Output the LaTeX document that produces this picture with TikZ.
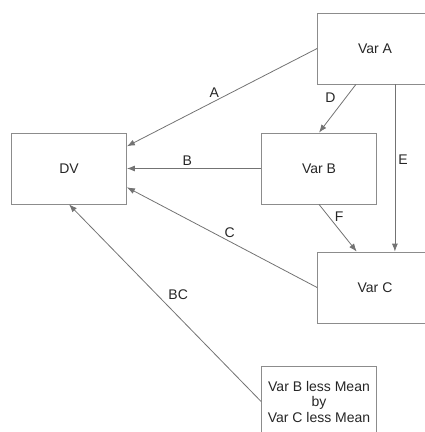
\documentclass[tikz,border=0pt]{standalone}
\usepackage{fontspec}
\setmainfont{Liberation Sans}
\usepackage{tikz}
\usetikzlibrary{arrows.meta}

\begin{document}
\begin{tikzpicture}
[
    x = 1pt, y = -1pt,
    font = \fontsize{14}{15.5}\selectfont,
    var/.style = {draw = black!45, line width = 0.8pt, minimum width = 115pt, minimum height = 71pt, align = center, text = black!85},
    conn/.style = {draw = black!55, line width = 0.8pt, -{Latex[length = 8pt, width = 6pt]}},
    lbl/.style = {text = black!85, inner sep = 3pt},
]
    \useasboundingbox (0,0) rectangle (425,432);
    \clip (0,0) rectangle (425,432);
    \node[var] (dv) at (69,168.5) {DV};
    \node[var] (va) at (375,48.5) {Var A};
    \node[var] (vb) at (319,168.5) {Var B};
    \node[var] (vc) at (375,287.5) {Var C};
    \node[var] (bc) at (319,401.5) {Var B less Mean\\by\\Var C less Mean};
    \draw[conn] (va.west) -- node[lbl, above, pos = 0.54]{A} (dv.21);
    \draw[conn] (va.-118) -- node[lbl, left, pos = 0.27, xshift = -7pt]{D} (vb.north);
    \draw[conn] (vb.west) -- node[lbl, above, pos = 0.55]{B} (dv.east);
    \draw[conn] (va.-61) -- node[lbl, right, pos = 0.45]{E} (va.-61 |- vc.north);
    \draw[conn] (vb.south) -- node[lbl, right, pos = 0.25, xshift = 3pt]{F} (vc.117);
    \draw[conn] (vc.west) -- node[lbl, above, pos = 0.46]{C} (dv.-18);
    \draw[conn] (bc.west) -- node[lbl, above right, pos = 0.5]{BC} (dv.south);
\end{tikzpicture}
\end{document}
